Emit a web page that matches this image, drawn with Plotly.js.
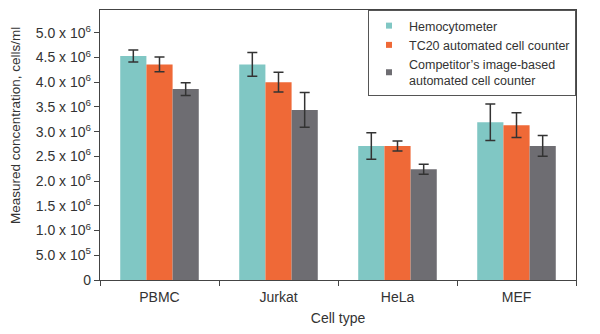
<!DOCTYPE html>
<html><head><meta charset="utf-8">
<script src="https://cdn.plot.ly/plotly-3.0.1.min.js"></script>
<style>html,body{margin:0;padding:0;background:#fff}#chart{width:600px;height:334px}</style>
</head><body><div id="chart"></div>
<script>
var categories = ["PBMC", "Jurkat", "HeLa", "MEF"];
var seriesNames = ["Hemocytometer", "TC20 automated cell counter", "Competitor\u2019s image-based<br>automated cell counter"];
var hemocytometer = [4.53e6, 4.36e6, 2.71e6, 3.19e6];
var hemocytometerErr = [0.12e6, 0.24e6, 0.27e6, 0.37e6];
var tc20 = [4.36e6, 4.00e6, 2.71e6, 3.13e6];
var tc20Err = [0.15e6, 0.20e6, 0.10e6, 0.25e6];
var competitor = [3.86e6, 3.44e6, 2.24e6, 2.71e6];
var competitorErr = [0.13e6, 0.35e6, 0.10e6, 0.21e6];
var colors = ["#80c7c4", "#ef6937", "#6e6d72"];
var yTitle = "Measured concentration, cells/ml";
var xTitle = "Cell type";
var yTickVals = [0, 0.5e6, 1.0e6, 1.5e6, 2.0e6, 2.5e6, 3.0e6, 3.5e6, 4.0e6, 4.5e6, 5.0e6];
var yTickText = ["0", "5.0 x 10<sup>5</sup>", "1.0 x 10<sup>6</sup>", "1.5 x 10<sup>6</sup>", "2.0 x 10<sup>6</sup>", "2.5 x 10<sup>6</sup>", "3.0 x 10<sup>6</sup>", "3.5 x 10<sup>6</sup>", "4.0 x 10<sup>6</sup>", "4.5 x 10<sup>6</sup>", "5.0 x 10<sup>6</sup>"];

var values = [hemocytometer, tc20, competitor];
var errs = [hemocytometerErr, tc20Err, competitorErr];
var traces = [];
for (var i = 0; i < 3; i++) {
  traces.push({
    type: "bar", x: categories, y: values[i], name: seriesNames[i],
    marker: {color: colors[i], line: {width: 0}}, showlegend: false,
    error_y: {type: "data", array: errs[i], visible: true, color: "#333", thickness: 1.5, width: 5}
  });
}
for (var j = 0; j < 3; j++) {
  traces.push({
    type: "scatter", mode: "markers", x: [null], y: [null], name: seriesNames[j],
    marker: {symbol: "square", size: 6, color: colors[j]}, showlegend: true, hoverinfo: "skip"
  });
}
var font = {family: "Liberation Sans, Arial, sans-serif", size: 14, color: "#333"};
var layout = {
  width: 600, height: 334,
  margin: {l: 100, r: 24, t: 10, b: 54},
  paper_bgcolor: "#fff", plot_bgcolor: "#fff",
  font: font,
  barmode: "group", bargap: 0.34, bargroupgap: 0,
  xaxis: {
    type: "category", showline: true, linecolor: "#444", linewidth: 1.2, mirror: true,
    ticks: "outside", tickson: "boundaries", ticklen: 5, tickcolor: "#444",
    ticklabelstandoff: 4,
    showgrid: false, zeroline: false,
    title: {text: xTitle, font: font, standoff: 9},
    tickfont: font
  },
  yaxis: {
    range: [0, 5.46e6], showline: true, linecolor: "#444", linewidth: 1.2, mirror: true,
    ticks: "outside", ticklen: 5, tickcolor: "#444",
    tickvals: yTickVals, ticktext: yTickText, tickfont: font,
    showgrid: false, zeroline: false
  },
  annotations: [{
    text: yTitle, textangle: -90, showarrow: false,
    xref: "paper", yref: "paper", x: 0, y: 0.57, xanchor: "center", yanchor: "middle",
    xshift: -85, font: {family: "Liberation Sans, Arial, sans-serif", size: 13.5, color: "#333"}
  }],
  legend: {
    x: 1, xanchor: "right", y: 1, yanchor: "top",
    bordercolor: "#555", borderwidth: 1, bgcolor: "#fff",
    font: {family: "Liberation Sans, Arial, sans-serif", size: 12.5, color: "#333"},
    itemwidth: 30, tracegroupgap: 0
  }
};
Plotly.newPlot("chart", traces, layout, {displayModeBar: false, staticPlot: true});
</script></body></html>
